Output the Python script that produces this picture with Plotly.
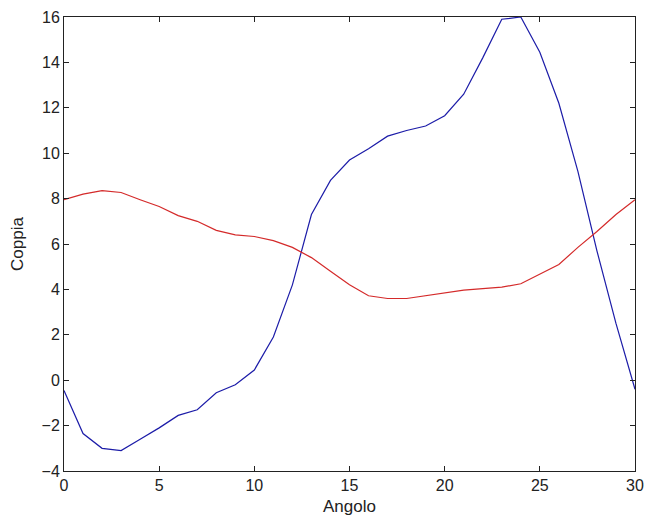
import plotly.graph_objects as go

angolo = list(range(0, 31))
coppia_blu = [-0.45, -2.35, -3.0, -3.1, -2.6, -2.1, -1.55, -1.3, -0.55, -0.2,
              0.45, 1.9, 4.2, 7.3, 8.8, 9.7, 10.2, 10.75, 11.0, 11.2,
              11.65, 12.6, 14.2, 15.9, 16.0, 14.45, 12.2, 9.2, 5.7, 2.5, -0.4]
coppia_rossa = [7.95, 8.2, 8.35, 8.27, 7.95, 7.65, 7.25, 7.0, 6.6, 6.4,
                6.33, 6.15, 5.85, 5.4, 4.8, 4.2, 3.72, 3.6, 3.6, 3.72,
                3.85, 3.97, 4.03, 4.1, 4.25, 4.67, 5.1, 5.85, 6.55, 7.3, 7.95]
x_ticks = [0, 5, 10, 15, 20, 25, 30]
y_ticks = [-4, -2, 0, 2, 4, 6, 8, 10, 12, 14, 16]

FONT = "Liberation Sans, Arial"
fig = go.Figure()
fig.add_trace(go.Scatter(x=angolo, y=coppia_blu, mode="lines",
                         line=dict(color="#1c1ca8", width=1.2), showlegend=False))
fig.add_trace(go.Scatter(x=angolo, y=coppia_rossa, mode="lines",
                         line=dict(color="#d42a2a", width=1.2), showlegend=False))

axis_common = dict(showgrid=False, zeroline=False, showline=True, linecolor="#222",
                   linewidth=1, mirror="ticks", ticks="inside", ticklen=5,
                   tickcolor="#222", tickfont=dict(family=FONT, size=16, color="#222"))
fig.update_xaxes(range=[0, 30], tickvals=x_ticks,
                 title=dict(text="Angolo", font=dict(family=FONT, size=17, color="#222"), standoff=6),
                 **axis_common)
fig.update_yaxes(range=[-4, 16], tickvals=y_ticks,
                 title=dict(text="Coppia", font=dict(family=FONT, size=17, color="#222"), standoff=13),
                 **axis_common)
fig.update_layout(width=653, height=521, margin=dict(l=64, r=9, t=16, b=48),
                  paper_bgcolor="white", plot_bgcolor="white")
fig.write_html("out.html")
